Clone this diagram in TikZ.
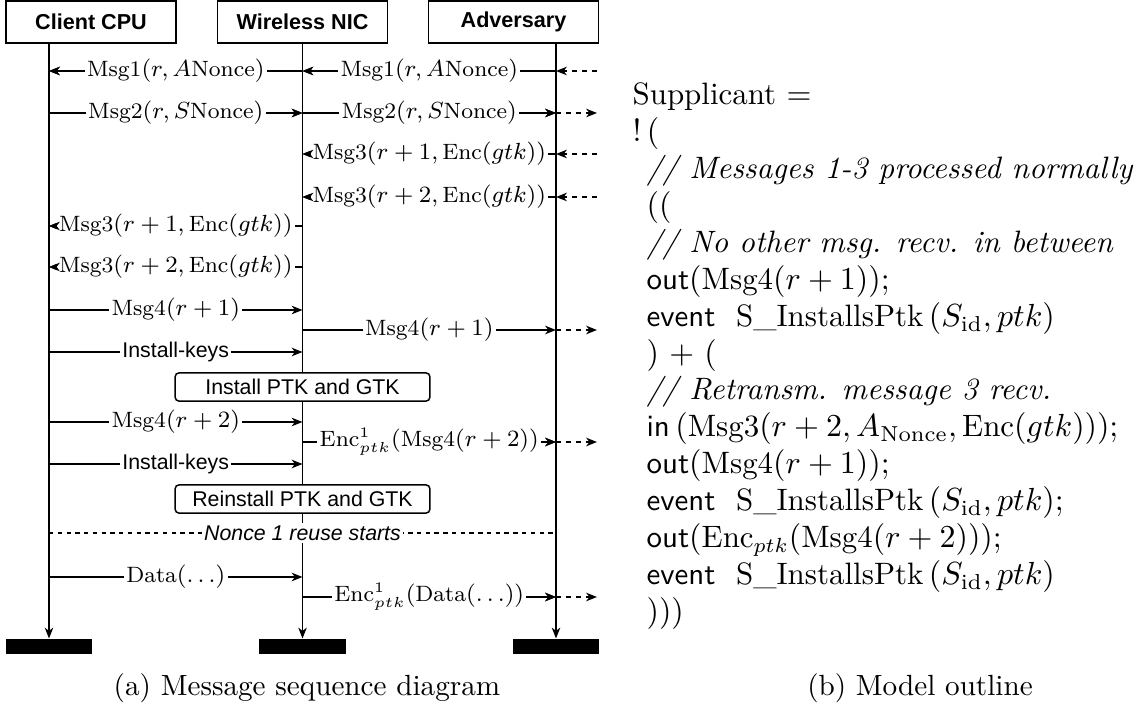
\documentclass[tikz,border=0pt]{standalone}
\usepackage{fontspec}
\newfontfamily\helv{Liberation Sans}
\usetikzlibrary{arrows.meta}
\tikzset{
  msg/.style={line width=0.5pt,-{Stealth[length=3.7pt,width=2.9pt,inset=1.1pt]}},
  tiponly/.style={msg,shorten <=84pt},
  ext/.style={msg,dash pattern=on 1.8pt off 1.6pt},
  lab/.style={fill=white,inner sep=0.8pt,font=\fontsize{7.6}{9}\selectfont},
  slab/.style={fill=white,inner sep=0.8pt,font=\helv\fontsize{7.3}{9}\selectfont},
  nlab/.style={fill=white,inner sep=0.8pt,font=\helv\itshape\fontsize{7.3}{9}\selectfont},
  head/.style={draw,line width=0.5pt,minimum width=58.2pt,minimum height=14.4pt,inner sep=0pt,font=\helv\bfseries\fontsize{7.4}{9}\selectfont},
  bar/.style={fill=black,draw=none,minimum width=29.5pt,minimum height=5.1pt,inner sep=0pt},
  proc/.style={draw,fill=white,line width=0.5pt,rounded corners=1.4pt,minimum width=87.3pt,minimum height=9.7pt,inner sep=0pt,font=\helv\fontsize{7.3}{9}\selectfont},
  code/.style={anchor=base west,inner sep=0pt,font=\fontsize{10.6}{12.7}\selectfont},
  captxt/.style={anchor=base,inner sep=0pt,font=\fontsize{10}{12}\selectfont}
}
\begin{document}
\begin{tikzpicture}[x=0.3425pt,y=-0.3425pt]
\useasboundingbox (0,0) rectangle (1142,709);
% headers
\node[head] (cpu) at (91,22) {Client CPU};
\node[head] (nic) at (302.5,22) {Wireless NIC};
\node[head] (adv) at (513.5,22) {Adversary};
% bars
\node[bar] (b1) at (49,646.5) {};
\node[bar] (b2) at (302.5,646.5) {};
\node[bar] (b3) at (556,646.5) {};
% lifelines
\draw[msg] (cpu.south -| b1.north) -- (b1.north);
\draw[msg] (nic.south) -- (b2.north);
\draw[msg] (adv.south -| b3.north) -- (b3.north);
% row coordinates
\foreach \n/\y in {1/71,2/113,3/154,4/197,5/226,6/267,7/310,8/330,9/352,11/422,12/442,13/464,15/533,16/577,17/597}{
  \coordinate (C\n) at (49,\y);
  \coordinate (N\n) at (302.5,\y);
  \coordinate (A\n) at (556,\y);
  \coordinate (E\n) at (597,\y);
}
% messages
\draw[msg] (N1) -- node[lab]{$\mathrm{Msg1}(r, A\mathrm{Nonce})$} (C1);
\draw[tiponly] (N1) -- (C1);
\draw[msg] (A1) -- node[lab]{$\mathrm{Msg1}(r, A\mathrm{Nonce})$} (N1);
\draw[tiponly] (A1) -- (N1);
\draw[ext] (E1) -- (A1);
\draw[msg] (C2) -- node[lab]{$\mathrm{Msg2}(r, S\mathrm{Nonce})$} (N2);
\draw[tiponly] (C2) -- (N2);
\draw[msg] (N2) -- node[lab]{$\mathrm{Msg2}(r, S\mathrm{Nonce})$} (A2);
\draw[tiponly] (N2) -- (A2);
\draw[ext] (A2) -- (E2);
\draw[msg] (A3) -- node[lab]{$\mathrm{Msg3}(r+1, \mathrm{Enc}(gtk))$} (N3);
\draw[tiponly] (A3) -- (N3);
\draw[ext] (E3) -- (A3);
\draw[msg] (A4) -- node[lab]{$\mathrm{Msg3}(r+2, \mathrm{Enc}(gtk))$} (N4);
\draw[tiponly] (A4) -- (N4);
\draw[ext] (E4) -- (A4);
\draw[msg] (N5) -- node[lab]{$\mathrm{Msg3}(r+1, \mathrm{Enc}(gtk))$} (C5);
\draw[tiponly] (N5) -- (C5);
\draw[msg] (N6) -- node[lab]{$\mathrm{Msg3}(r+2, \mathrm{Enc}(gtk))$} (C6);
\draw[tiponly] (N6) -- (C6);
\draw[msg] (C7) -- node[lab]{$\mathrm{Msg4}(r+1)$} (N7);
\draw[msg] (N8) -- node[lab]{$\mathrm{Msg4}(r+1)$} (A8);
\draw[ext] (A8) -- (E8);
\draw[msg] (C9) -- node[slab]{Install-keys} (N9);
\node[proc] (inst) at (302.5,387) {Install PTK and GTK};
\draw[msg] (C11) -- node[lab]{$\mathrm{Msg4}(r+2)$} (N11);
\draw[msg] (N12) -- node[lab]{$\mathrm{Enc}^1_{ptk}(\mathrm{Msg4}(r+2))$} (A12);
\draw[tiponly] (N12) -- (A12);
\draw[ext] (A12) -- (E12);
\draw[msg] (C13) -- node[slab]{Install-keys} (N13);
\node[proc] (reinst) at (302.5,499) {Reinstall PTK and GTK};
\draw[line width=0.5pt,dash pattern=on 1.5pt off 1.5pt] (C15) -- node[nlab]{Nonce 1 reuse starts} (A15);
\draw[msg] (C16) -- node[lab]{$\mathrm{Data}(\ldots)$} (N16);
\draw[msg] (N17) -- node[lab]{$\mathrm{Enc}^1_{ptk}(\mathrm{Data}(\ldots))$} (A17);
\draw[tiponly] (N17) -- (A17);
\draw[ext] (A17) -- (E17);
% code
\node[code] (l1) at (632,105) {Supplicant $=$};
\node[code] (l2) at (632,142) {$!\,($};
\node[code] (l3) at (646,179) {\textit{// Messages 1-3 processed normally}};
\node[code] (l4) at (646,216) {$(($};
\node[code] (l5) at (646,253) {\textit{// No other msg. recv. in between}};
\node[code] (l6) at (646,290) {\textsf{out}$(\mathrm{Msg4}(r+1));$};
\node[code] (l7) at (646,327) {\textsf{event}\ \ $\mathrm{S\_InstallsPtk}\,(S_{\mathrm{id}}, ptk)$};
\node[code] (l8) at (646,364) {$)$ $+$ $($};
\node[code] (l9) at (646,400) {\textit{// Retransm. message 3 recv.}};
\node[code] (l10) at (646,437) {\textsf{in}$\,(\mathrm{Msg3}(r+2, A_{\mathrm{Nonce}}, \mathrm{Enc}(gtk)));$};
\node[code] (l11) at (646,474) {\textsf{out}$(\mathrm{Msg4}(r+1));$};
\node[code] (l12) at (646,511) {\textsf{event}\ \ $\mathrm{S\_InstallsPtk}\,(S_{\mathrm{id}}, ptk);$};
\node[code] (l13) at (646,548) {\textsf{out}$(\mathrm{Enc}_{ptk}(\mathrm{Msg4}(r+2)));$};
\node[code] (l14) at (646,585) {\textsf{event}\ \ $\mathrm{S\_InstallsPtk}\,(S_{\mathrm{id}}, ptk)$};
\node[code] (l15) at (646,622) {$)))$};
% captions
\node[captxt] (capa) at (307,695) {(a) Message sequence diagram};
\node[captxt] (capb) at (920,695) {(b) Model outline};
\end{tikzpicture}
\end{document}
